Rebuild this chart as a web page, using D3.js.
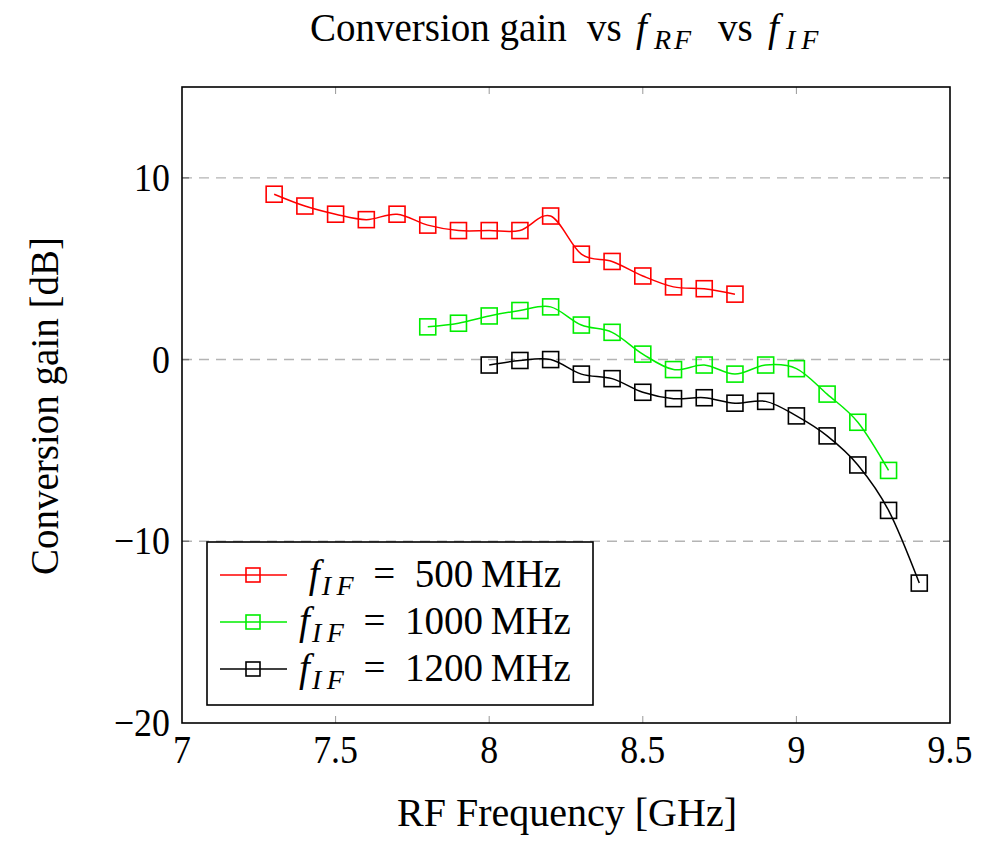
<!DOCTYPE html>
<html>
<head>
<meta charset="utf-8">
<script src="https://cdn.jsdelivr.net/npm/d3@7"></script>
<style>
  body { margin: 0; background: #fff; }
  svg { display: block; }
  text { font-family: "Liberation Serif", "DejaVu Serif", serif; fill: #000; }
</style>
</head>
<body>
<div id="chart"></div>
<script>
// data
var freqRed   = [7.3, 7.4, 7.5, 7.6, 7.7, 7.8, 7.9, 8.0, 8.1, 8.2, 8.3, 8.4, 8.5, 8.6, 8.7, 8.8];
var gainRed   = [9.1, 8.45, 8.0, 7.7, 8.0, 7.4, 7.1, 7.1, 7.1, 7.9, 5.8, 5.4, 4.6, 4.0, 3.9, 3.6];
var freqGreen = [7.8, 7.9, 8.0, 8.1, 8.2, 8.3, 8.4, 8.5, 8.6, 8.7, 8.8, 8.9, 9.0, 9.1, 9.2, 9.3];
var gainGreen = [1.8, 2.0, 2.4, 2.7, 2.9, 1.9, 1.5, 0.3, -0.55, -0.3, -0.8, -0.3, -0.5, -1.9, -3.45, -6.1];
var freqBlack = [8.0, 8.1, 8.2, 8.3, 8.4, 8.5, 8.6, 8.7, 8.8, 8.9, 9.0, 9.1, 9.2, 9.3, 9.4];
var gainBlack = [-0.3, -0.05, 0.0, -0.8, -1.05, -1.8, -2.15, -2.1, -2.4, -2.3, -3.1, -4.2, -5.8, -8.3, -12.3];
var ifLabels  = ["500", "1000", "1200"];
var xTicks = [7, 7.5, 8, 8.5, 9, 9.5];
var yTicks = [-20, -10, 0, 10];
var gridTicks = [-10, 0, 10];

var series = [
  {label: ifLabels[0], color: "#ff0000", x: freqRed, y: gainRed},
  {label: ifLabels[1], color: "#00ee00", x: freqGreen, y: gainGreen},
  {label: ifLabels[2], color: "#000000", x: freqBlack, y: gainBlack}
];

var W = 993, H = 844;
var margin = {top: 87, right: 43, bottom: 121, left: 182};
var width = W - margin.left - margin.right,
    height = H - margin.top - margin.bottom;
var sx = 0.92; // tick numbers are a bit narrow in the picture

var svg = d3.select("#chart").append("svg")
  .attr("width", W).attr("height", H);
var g = svg.append("g")
  .attr("transform", "translate(" + margin.left + "," + margin.top + ")");

var x = d3.scaleLinear().domain([7, 9.5]).range([0, width]);
var y = d3.scaleLinear().domain([-20, 15]).range([height, 0]);

// grid
g.selectAll(".grid").data(gridTicks).enter().append("line")
  .attr("x1", 0).attr("x2", width)
  .attr("y1", function(d){ return y(d); }).attr("y2", function(d){ return y(d); })
  .attr("stroke", "#b4b4b4").attr("stroke-width", 1.4)
  .attr("stroke-dasharray", "10,7");

// inward ticks, top/bottom and left/right
var tickLen = 7;
g.selectAll(".xtb").data(xTicks.slice(1, -1)).enter().append("line")
  .attr("x1", function(d){ return x(d); }).attr("x2", function(d){ return x(d); })
  .attr("y1", height).attr("y2", height - tickLen)
  .attr("stroke", "#999").attr("stroke-width", 1);
g.selectAll(".xtt").data(xTicks.slice(1, -1)).enter().append("line")
  .attr("x1", function(d){ return x(d); }).attr("x2", function(d){ return x(d); })
  .attr("y1", 0).attr("y2", tickLen)
  .attr("stroke", "#999").attr("stroke-width", 1);
g.selectAll(".ytl").data(gridTicks).enter().append("line")
  .attr("x1", 0).attr("x2", tickLen)
  .attr("y1", function(d){ return y(d); }).attr("y2", function(d){ return y(d); })
  .attr("stroke", "#777").attr("stroke-width", 1.4);
g.selectAll(".ytr").data(gridTicks).enter().append("line")
  .attr("x1", width).attr("x2", width - tickLen)
  .attr("y1", function(d){ return y(d); }).attr("y2", function(d){ return y(d); })
  .attr("stroke", "#777").attr("stroke-width", 1.4);

// tick labels
g.selectAll(".xl").data(xTicks).enter().append("text")
  .attr("transform", function(d){ return "translate(" + x(d) + "," + (height + 40) + ") scale(" + sx + ",1)"; })
  .attr("text-anchor", "middle")
  .style("font-size", "39px")
  .text(function(d){ return d3.format("")(d); });
g.selectAll(".yl").data(yTicks).enter().append("text")
  .attr("transform", function(d){ return "translate(" + (-12) + "," + (y(d) + 13) + ") scale(" + sx + ",1)"; })
  .attr("text-anchor", "end")
  .style("font-size", "39px")
  .text(function(d){ return d < 0 ? "\u2212" + Math.abs(d) : d; });

// lines + markers
var line = d3.line()
  .x(function(d){ return x(d[0]); })
  .y(function(d){ return y(d[1]); })
  .curve(d3.curveCatmullRom.alpha(0));

var ms = 16;
series.forEach(function(s){
  var pts = s.x.map(function(v, i){ return [v, s.y[i]]; });
  g.append("path").datum(pts)
    .attr("d", line)
    .attr("fill", "none").attr("stroke", s.color).attr("stroke-width", 1.5);
  g.selectAll(null).data(pts).enter().append("rect")
    .attr("x", function(d){ return x(d[0]) - ms/2; })
    .attr("y", function(d){ return y(d[1]) - ms/2; })
    .attr("width", ms).attr("height", ms)
    .attr("fill", "none").attr("stroke", s.color).attr("stroke-width", 1.6);
});

// frame
g.append("rect").attr("width", width).attr("height", height)
  .attr("fill", "none").attr("stroke", "#000").attr("stroke-width", 1.6);

// legend
var lg = svg.append("g").attr("transform", "translate(207,542)");
lg.append("rect").attr("width", 386).attr("height", 163)
  .attr("fill", "#fff").attr("stroke", "#000").attr("stroke-width", 1.6);
series.forEach(function(s, i){
  var ly = 33 + i * 47;
  lg.append("line").attr("x1", 13).attr("x2", 80).attr("y1", ly).attr("y2", ly)
    .attr("stroke", s.color).attr("stroke-width", 1.5);
  lg.append("rect").attr("x", 39).attr("y", ly - 7).attr("width", 14).attr("height", 14)
    .attr("fill", "none").attr("stroke", s.color).attr("stroke-width", 1.6);
  var t = lg.append("text")
    .attr("transform", "translate(228," + (ly + 12) + ")")
    .attr("text-anchor", "middle")
    .style("font-size", "39px");
  t.append("tspan").style("font-style", "italic").text("f");
  t.append("tspan").style("font-style", "italic").style("font-size", "28px")
    .attr("dy", 8).attr("dx", 2).text("I\u2009F");
  t.append("tspan").attr("dy", -8).text("\u2002=\u2002" + s.label + "\u2009MHz");
});

// title, pieces placed like the LaTeX spacing
var tt = svg.append("text")
  .attr("y", 41).style("font-size", "39px");
tt.append("tspan").attr("x", 310).text("Conversion gain");
tt.append("tspan").attr("x", 587).text("vs");
tt.append("tspan").attr("x", 636).style("font-style", "italic").text("f");
tt.append("tspan").attr("x", 654).attr("dy", 8).style("font-style", "italic")
  .style("font-size", "28px").style("letter-spacing", "3px").text("RF");
tt.append("tspan").attr("x", 718).attr("dy", -8).text("vs");
tt.append("tspan").attr("x", 768).style("font-style", "italic").text("f");
tt.append("tspan").attr("x", 786).attr("dy", 8).style("font-style", "italic")
  .style("font-size", "28px").style("letter-spacing", "6px").text("IF");

// axis labels
svg.append("text")
  .attr("transform", "translate(567,826)")
  .attr("text-anchor", "middle").style("font-size", "40px")
  .text("RF Frequency [GHz]");
svg.append("text")
  .attr("transform", "translate(58,406) rotate(-90)")
  .attr("text-anchor", "middle").style("font-size", "39px")
  .text("Conversion gain [dB]");
</script>
</body>
</html>
